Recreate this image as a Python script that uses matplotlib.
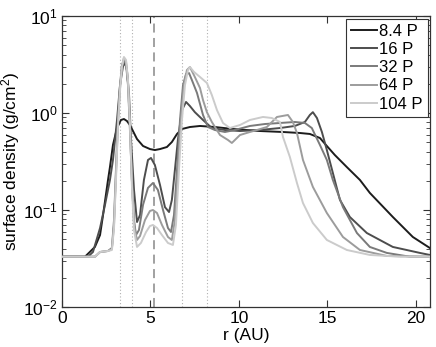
import matplotlib
matplotlib.use("Agg")
import matplotlib.pyplot as plt
from matplotlib.ticker import LogLocator, FixedLocator

plt.rcParams['font.family'] = ['Liberation Sans', 'DejaVu Sans']
plt.rcParams['mathtext.fontset'] = 'custom'
plt.rcParams['mathtext.rm'] = 'Liberation Sans'
plt.rcParams['mathtext.it'] = 'Liberation Sans'
plt.rcParams['mathtext.default'] = 'regular'

labels = ["8.4 P", "16 P", "32 P", "64 P", "104 P"]
colors = ["#1c1c1c", "#4d4d4d", "#7a7a7a", "#9c9c9c", "#cbcbcb"]

r_84 = [0, 1.30, 1.86, 2.15, 2.32, 2.60, 2.71, 2.88, 3.11, 3.33, 3.50, 3.67, 3.84, 4.24, 4.58, 4.97,
        5.25, 5.54, 5.93, 6.21, 6.50, 6.78, 7.23, 7.80, 8.64, 9.66, 11.19, 12.49, 13.45, 14.01, 14.58,
        14.97, 15.42, 16.10, 16.84, 17.40, 18.70, 19.83, 20.79]
s_84 = [0.033, 0.033, 0.0416, 0.0552, 0.0888, 0.204, 0.277, 0.468, 0.700, 0.847, 0.867, 0.827, 0.752,
        0.539, 0.457, 0.425, 0.415, 0.425, 0.446, 0.502, 0.608, 0.684, 0.717, 0.735, 0.717, 0.684,
        0.652, 0.637, 0.622, 0.608, 0.552, 0.457, 0.369, 0.277, 0.204, 0.150, 0.0847, 0.0527, 0.0406]

r_16 = [0, 1.47, 1.75, 2.15, 2.43, 2.71, 2.88, 3.11, 3.28, 3.45, 3.56, 3.67, 3.79, 3.90, 4.07, 4.24,
        4.41, 4.63, 4.86, 5.03, 5.25, 5.54, 5.82, 6.05, 6.21, 6.38, 6.55, 6.78, 7.01, 7.23, 7.51, 7.97,
        8.47, 9.21, 10.06, 11.19, 12.32, 13.16, 13.73, 14.01, 14.18, 14.41, 14.69, 14.97, 15.31, 15.71,
        16.27, 17.23, 18.70, 20.23, 20.79]
s_16 = [0.033, 0.033, 0.0369, 0.0652, 0.113, 0.204, 0.328, 0.847, 1.94, 3.05, 3.28, 2.77, 1.53, 0.527,
        0.161, 0.0752, 0.0888, 0.204, 0.328, 0.344, 0.291, 0.181, 0.107, 0.0953, 0.127, 0.258, 0.527,
        1.07, 1.30, 1.18, 1.02, 0.847, 0.700, 0.668, 0.652, 0.668, 0.700, 0.735, 0.808, 0.954, 1.02,
        0.888, 0.637, 0.415, 0.241, 0.127, 0.0847, 0.0579, 0.0416, 0.0361, 0.0344]

r_32 = [0, 1.86, 2.15, 2.60, 2.82, 2.94, 3.05, 3.16, 3.28, 3.39, 3.50, 3.62, 3.73, 3.84, 3.95, 4.07,
        4.18, 4.35, 4.58, 4.86, 5.14, 5.42, 5.71, 5.99, 6.16, 6.33, 6.50, 6.67, 6.84, 7.01, 7.18, 7.34,
        7.63, 7.97, 8.25, 8.64, 9.21, 9.77, 10.62, 11.47, 12.32, 13.16, 13.73, 14.12, 14.58, 14.97,
        15.31, 15.88, 16.67, 17.40, 18.36, 19.66, 20.79]
s_32 = [0.033, 0.033, 0.0369, 0.0378, 0.0406, 0.0788, 0.258, 0.847, 1.94, 3.12, 3.52, 3.20, 1.94,
        0.668, 0.204, 0.0788, 0.0552, 0.0622, 0.113, 0.169, 0.190, 0.161, 0.100, 0.0652, 0.0593,
        0.0888, 0.258, 0.847, 1.94, 2.52, 2.58, 2.19, 1.61, 0.954, 0.717, 0.668, 0.637, 0.668, 0.735,
        0.770, 0.789, 0.808, 0.789, 0.700, 0.468, 0.328, 0.204, 0.107, 0.0579, 0.0416, 0.0361, 0.033,
        0.033]

r_64 = [0, 1.86, 2.15, 2.60, 2.82, 2.94, 3.05, 3.16, 3.28, 3.39, 3.50, 3.62, 3.73, 3.84, 3.95, 4.07,
        4.24, 4.41, 4.69, 4.97, 5.14, 5.37, 5.65, 5.99, 6.21, 6.38, 6.55, 6.72, 6.89, 7.06, 7.23, 7.51,
        7.80, 7.97, 8.19, 8.47, 8.93, 9.38, 9.60, 10.06, 10.62, 11.02, 11.58, 12.15, 12.77, 13.05,
        13.28, 13.62, 14.18, 14.97, 15.88, 16.84, 18.36, 20.79]
s_64 = [0.033, 0.033, 0.0369, 0.0378, 0.0396, 0.0701, 0.230, 0.752, 1.81, 3.05, 3.69, 3.36, 2.09,
        0.752, 0.204, 0.0701, 0.0491, 0.0539, 0.0788, 0.0977, 0.100, 0.0931, 0.0701, 0.0527, 0.0491,
        0.0788, 0.258, 0.847, 1.94, 2.77, 2.98, 2.35, 1.81, 1.36, 1.02, 0.808, 0.593, 0.527, 0.491,
        0.593, 0.637, 0.668, 0.717, 0.910, 0.954, 0.808, 0.622, 0.328, 0.173, 0.0931, 0.0527, 0.0387,
        0.0336, 0.033]

r_104 = [0, 1.86, 2.15, 2.60, 2.82, 2.94, 3.05, 3.16, 3.28, 3.39, 3.50, 3.62, 3.73, 3.84, 3.95, 4.07,
         4.24, 4.46, 4.75, 4.97, 5.14, 5.37, 5.65, 5.99, 6.27, 6.44, 6.61, 6.78, 6.95, 7.12, 7.23, 7.46,
         7.80, 8.19, 8.47, 8.76, 9.10, 9.49, 10.06, 10.62, 11.36, 11.86, 12.32, 12.49, 12.88, 13.28,
         13.62, 14.18, 14.97, 16.10, 17.40, 19.10, 20.79]
s_104 = [0.033, 0.033, 0.0369, 0.0378, 0.0387, 0.0652, 0.204, 0.700, 1.73, 2.98, 3.78, 3.52, 2.19,
         0.752, 0.181, 0.0622, 0.0416, 0.0457, 0.0593, 0.0684, 0.0701, 0.0652, 0.0552, 0.0457, 0.0436,
         0.0701, 0.258, 0.847, 1.94, 2.77, 2.98, 2.65, 2.35, 2.04, 1.53, 1.07, 0.789, 0.700, 0.752,
         0.847, 0.910, 0.888, 0.808, 0.566, 0.352, 0.190, 0.118, 0.0735, 0.0491, 0.0387, 0.0344, 0.033,
         0.033]

dotted_r = [3.28, 3.95, 6.8, 8.2]
dashed_r = [5.2]

series = [(r_84, s_84), (r_16, s_16), (r_32, s_32), (r_64, s_64), (r_104, s_104)]

fig = plt.figure(figsize=(4.36, 3.47), dpi=100)
ax = fig.add_axes([62/436, 1-307/347, (430-62)/436, (307-16)/347])

for xv in dotted_r:
    ax.axvline(xv, color="#b0b0b0", lw=0.8, ls=(0, (1, 2)), zorder=1)
for xv in dashed_r:
    ax.axvline(xv, color="#9a9a9a", lw=1.3, ls=(0, (5, 3)), zorder=1)

for (rr, ss), lab, c in zip(series, labels, colors):
    ax.plot(rr, ss, color=c, lw=1.4, label=lab, zorder=3)

ax.set_yscale('log')
ax.set_xlim(0, 20.8)
ax.set_ylim(1e-2, 1e1)
ax.xaxis.set_major_locator(FixedLocator([0, 5, 10, 15, 20]))
ax.yaxis.set_major_locator(LogLocator(base=10, numticks=10))
ax.yaxis.set_minor_locator(LogLocator(base=10, subs=range(2, 10), numticks=10))
ax.tick_params(which='both', direction='in', top=True, right=True, labelsize=12.5,
               color="#333333", pad=3)
ax.tick_params(which='major', length=5)
ax.tick_params(which='minor', length=3)
for sp in ax.spines.values():
    sp.set_color("#333333")
    sp.set_linewidth(0.9)

ax.set_xlabel("r (AU)", fontsize=12.5)
ax.set_ylabel("surface density (g/cm$^2$)", fontsize=12.5)
ax.yaxis.set_label_coords(-0.108, 0.5)
ax.xaxis.set_label_coords(0.5, -0.072)

leg = ax.legend(loc='upper right', fontsize=12, handlelength=1.6, handletextpad=0.1,
                labelspacing=0.2, borderpad=0.3, borderaxespad=0.15, fancybox=False,
                framealpha=1, edgecolor="#333333")
leg.get_frame().set_linewidth(0.8)

fig.savefig("out.png", dpi=100)
